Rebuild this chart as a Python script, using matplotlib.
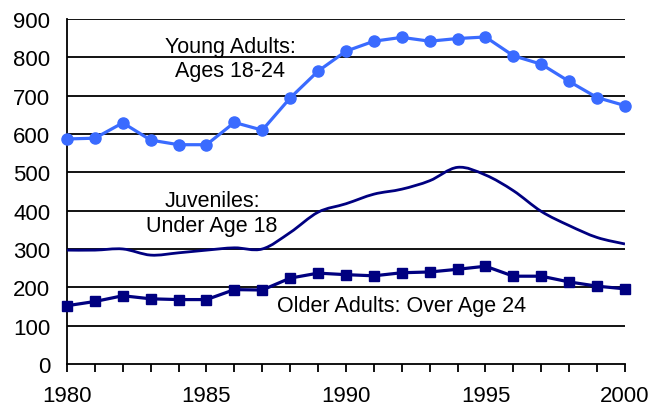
import matplotlib
matplotlib.use("Agg")
import matplotlib.pyplot as plt
import numpy as np
from matplotlib.path import Path
from matplotlib.patches import PathPatch

plt.rcParams['font.family'] = ['Liberation Sans', 'DejaVu Sans']

years = list(range(1980, 2001))

young_adults = [587, 589, 629, 584, 572, 572, 630, 610, 694, 764,
                816, 842, 852, 842, 849, 853, 804, 782, 737, 695, 674]

juveniles = [297, 297, 300, 284, 290, 297, 303, 300, 343, 396,
             418, 443, 456, 478, 513, 493, 452, 398, 361, 330, 313]

older_adults = [152, 163, 178, 170, 168, 168, 194, 193, 224, 237,
                233, 230, 238, 240, 247, 255, 229, 229, 214, 203, 196]

blue = '#3a6bff'
navy = '#000080'


def smooth_path(xs, ys):
    # Catmull-Rom style smoothing, like a spreadsheet "smoothed line"
    p = np.column_stack([xs, ys]).astype(float)
    ext = np.vstack([p[0], p, p[-1]])
    verts = [tuple(p[0])]
    codes = [Path.MOVETO]
    for i in range(1, len(ext) - 2):
        p0, p1, p2, p3 = ext[i - 1], ext[i], ext[i + 1], ext[i + 2]
        c1 = p1 + (p2 - p0) / 6.0
        c2 = p2 - (p3 - p1) / 6.0
        verts += [tuple(c1), tuple(c2), tuple(p2)]
        codes += [Path.CURVE4] * 3
    return Path(verts, codes)


fig = plt.figure(figsize=(6.53, 4.10), dpi=100)
ax = fig.add_axes([0.1026, 0.1098, 0.8545, 0.8415])

ax.set_xlim(1980, 2000)
ax.set_ylim(0, 900)

for yv in range(100, 1000, 100):
    ax.axhline(yv, color='black', lw=1.3, zorder=1)

ax.plot(years, young_adults, color=blue, lw=2.3, marker='o', markersize=8,
        clip_on=False, zorder=3)
ax.add_patch(PathPatch(smooth_path(years, juveniles), facecolor='none',
                       edgecolor=navy, lw=2.0, zorder=3))
ax.plot(years, older_adults, color=navy, lw=2.3, marker='s', markersize=6.5,
        clip_on=False, zorder=3)

ax.text(1985.85, 796, 'Young Adults:\nAges 18-24', ha='center', va='center',
        fontsize=15.5, linespacing=1.2)
ax.text(1985.2, 394, 'Juveniles:\nUnder Age 18', ha='center', va='center',
        fontsize=15.5, linespacing=1.2)
ax.text(1992.0, 152, 'Older Adults: Over Age 24', ha='center', va='center',
        fontsize=15.5)

for s in ['top', 'right']:
    ax.spines[s].set_visible(False)
ax.spines['left'].set_linewidth(1.3)
ax.spines['bottom'].set_linewidth(1.3)

ax.set_yticks(range(0, 1000, 100))
ax.tick_params(axis='y', length=0, pad=12, labelsize=16)
ax.set_xticks(years)
ax.set_xticklabels([str(y) if y % 5 == 0 else '' for y in years])
ax.tick_params(axis='x', length=6, width=1.3, direction='out', pad=9,
               labelsize=16)

fig.savefig('out.png', dpi=100)
